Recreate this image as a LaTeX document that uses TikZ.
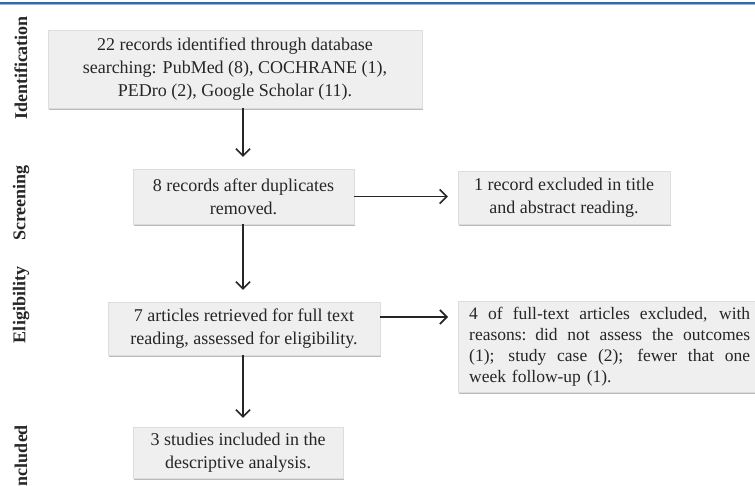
\documentclass[tikz,border=0pt]{standalone}
\usepackage{fontspec}
\setmainfont{Liberation Serif}
\usetikzlibrary{arrows.meta,shadows,calc}
\definecolor{boxfill}{HTML}{EFEFEF}
\definecolor{boxline}{HTML}{DDDDDD}
\definecolor{ink}{HTML}{262626}
\definecolor{bluerule}{HTML}{2E6DB4}
\definecolor{bluelight}{HTML}{8DB8E6}
\newcommand{\fullline}[1]{\leavevmode\hbox to 281pt{\spaceskip=0.25em plus 3em\relax #1}}
\tikzset{
  box/.style={fill=boxfill, draw=boxline, line width=0.4pt, text=ink,
    font=\fontsize{18}{23}\selectfont, align=center, inner sep=0pt,
    drop shadow={shadow xshift=0.6pt, shadow yshift=-2.2pt, opacity=0.6, fill=black!45}},
  phase/.style={rotate=90, font=\fontsize{18}{20}\selectfont\bfseries, text=ink, inner sep=0pt},
  arr/.style={draw=ink, line width=1.6pt, -{Straight Barb[length=7pt,width=14pt,line width=1.6pt]}, shorten >=12pt}
}
\begin{document}
\begin{tikzpicture}[x=1pt,y=-1pt]
\useasboundingbox (0,0) rectangle (755,486);
\clip (0,0) rectangle (755,486);
\fill[white] (0,0) rectangle (755,486);
% top rule
\draw[bluerule, line width=1.3pt] (0,3) -- (755,3);
\draw[bluelight, line width=0.9pt] (0,4.6) -- (755,4.6);
% phase labels
\node[phase] (pid) at (21,68) {Identification};
\node[phase] (psc) at (21,203) {Screening};
\node[phase] (pel) at (21,305) {Eligibility};
\node[phase] (pin) at (21,459) {Included};
% boxes
\node[box, minimum width=374pt, minimum height=78pt] (b1) at (235,69)
  {22 records identified through database\\searching: PubMed (8), COCHRANE (1),\\PEDro (2), Google Scholar (11).};
\node[box, minimum width=221pt, minimum height=55pt] (b2) at (243.5,196.5)
  {8 records after duplicates\\removed.};
\node[box, minimum width=272pt, minimum height=53pt] (b3) at (244,328.5)
  {7 articles retrieved for full text\\reading, assessed for eligibility.};
\node[box, minimum width=210pt, minimum height=51pt] (b4) at (238,452.5)
  {3 studies included in the\\descriptive analysis.};
\node[box, minimum width=212pt, minimum height=53pt] (bA) at (564,197.5)
  {1 record excluded in title\\and abstract reading.};
\node[box, anchor=north west, align=left, inner xsep=11pt, inner ysep=6pt, text width=281pt,
  font=\fontsize{17.5}{21}\selectfont] (bB) at (458,301)
  {\fullline{4 of full-text articles excluded, with}\\
   \fullline{reasons: did not assess the outcomes}\\
   \fullline{(1); study case (2); fewer that one}\\
   week follow-up (1).};
% connectors
\coordinate (xa) at (243,0);
\coordinate (yB) at (400,317);
\draw[arr] (b1.south -| xa) -- (b2.north -| xa);
\draw[arr] (b2.south -| xa) -- (b3.north -| xa);
\draw[arr, shorten >=9pt] (b3.south -| xa) -- (b4.north -| xa);
\draw[arr, shorten >=10pt] (b2.east) -- (b2.east -| bA.west);
\draw[arr, shorten >=10pt] (b3.east |- yB) -- (bB.west |- yB);
\end{tikzpicture}
\end{document}
